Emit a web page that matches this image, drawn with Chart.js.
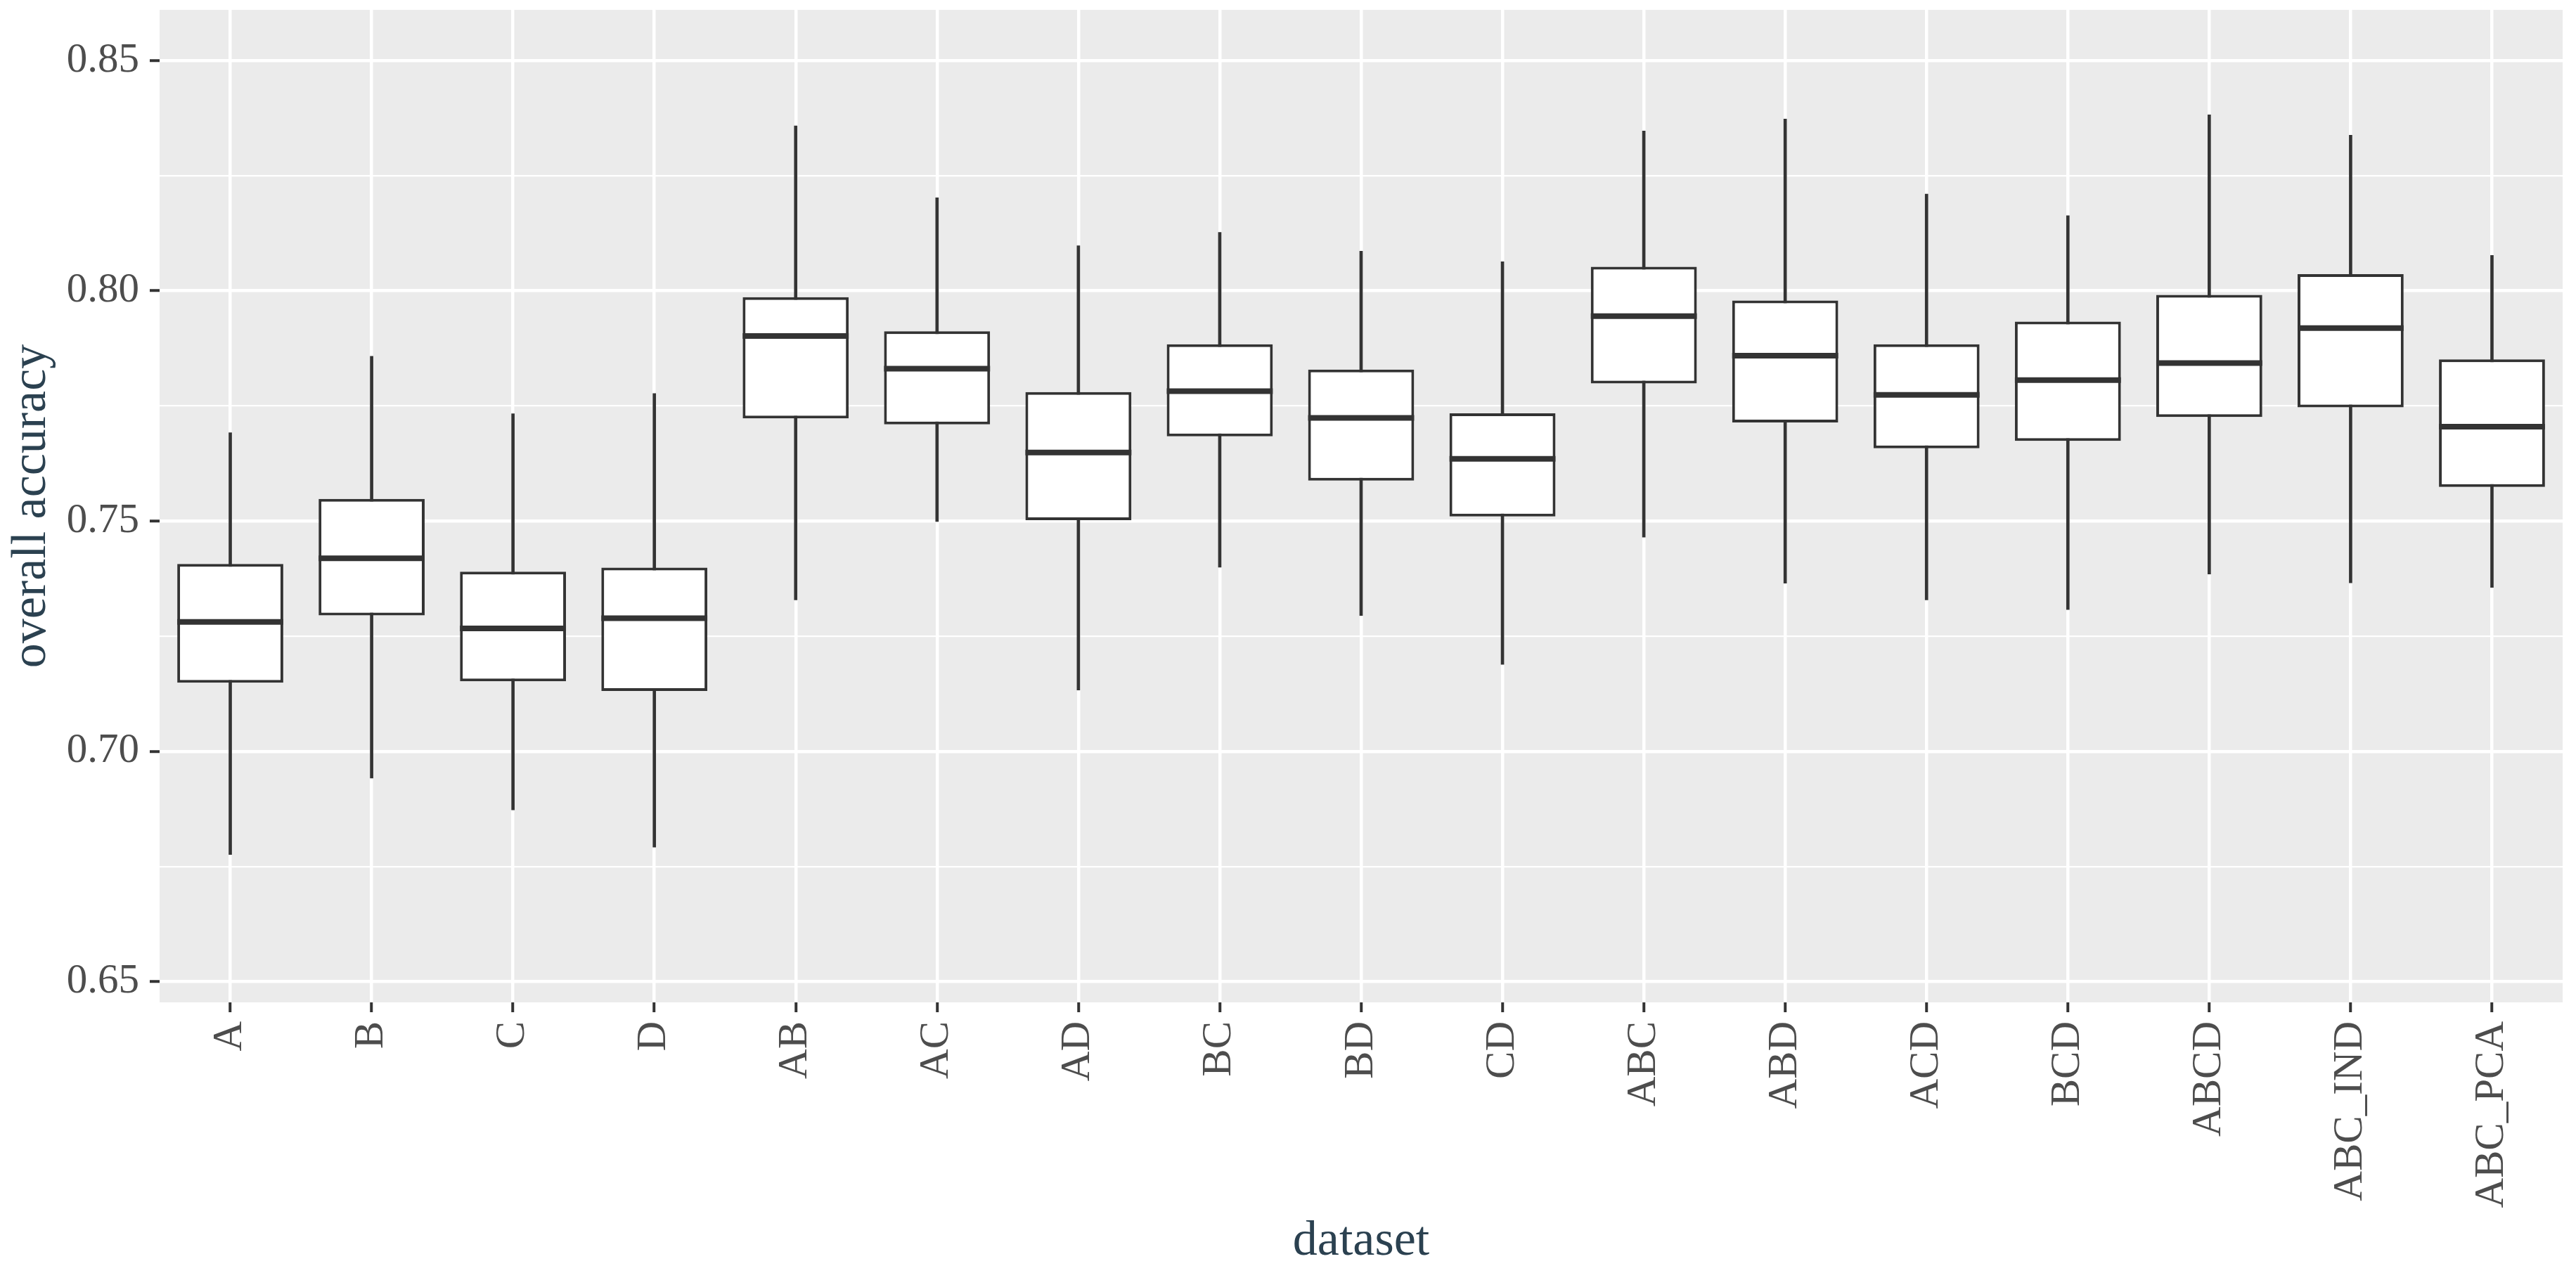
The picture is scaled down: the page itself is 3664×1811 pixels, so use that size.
<!DOCTYPE html>
<html>
<head>
<meta charset="utf-8">
<script src="https://cdn.jsdelivr.net/npm/chart.js@4/dist/chart.umd.min.js"></script>
<style>
  html, body { margin: 0; padding: 0; background: #ffffff; }
  canvas { display: block; }
</style>
</head>
<body>
<canvas id="myChart" width="3664" height="1811"></canvas>
<script>
var labels = ["A", "B", "C", "D", "AB", "AC", "AD", "BC", "BD", "CD", "ABC", "ABD", "ACD", "BCD", "ABCD", "ABC_IND", "ABC_PCA"];
var whiskerLow = [0.6776, 0.6942, 0.6873, 0.6792, 0.7329, 0.7499, 0.7133, 0.7400, 0.7295, 0.7189, 0.7465, 0.7365, 0.7329, 0.7308, 0.7385, 0.7366, 0.7356];
var q1 = [0.7149, 0.7295, 0.7152, 0.7131, 0.7723, 0.7710, 0.7502, 0.7684, 0.7588, 0.7510, 0.7799, 0.7714, 0.7658, 0.7674, 0.7726, 0.7747, 0.7574];
var median = [0.7281, 0.7419, 0.7267, 0.7289, 0.7902, 0.7831, 0.7649, 0.7782, 0.7724, 0.7635, 0.7945, 0.7859, 0.7774, 0.7806, 0.7843, 0.7919, 0.7705];
var q3 = [0.7407, 0.7548, 0.7390, 0.7399, 0.7986, 0.7912, 0.7780, 0.7884, 0.7829, 0.7734, 0.8052, 0.7979, 0.7884, 0.7933, 0.7991, 0.8036, 0.7851];
var whiskerHigh = [0.7692, 0.7858, 0.7733, 0.7777, 0.8358, 0.8202, 0.8098, 0.8127, 0.8086, 0.8063, 0.8347, 0.8373, 0.8210, 0.8163, 0.8382, 0.8338, 0.8077];

var ink = "#333333";
var serif = "'Liberation Serif', 'Times New Roman', serif";

function isMajor(v) {
  return Math.round(v * 1000) % 50 === 0;
}

// grey panel behind everything
var panelBg = {
  id: "panelBg",
  beforeDraw: function (chart) {
    var a = chart.chartArea;
    var c = chart.ctx;
    c.save();
    c.fillStyle = "#EBEBEB";
    c.fillRect(a.left, a.top, a.right - a.left, a.bottom - a.top);
    c.restore();
  },
};

// median line across each box
var medianLines = {
  id: "medianLines",
  afterDatasetsDraw: function (chart) {
    var meta = chart.getDatasetMeta(1);
    var y = chart.scales.y;
    var c = chart.ctx;
    c.save();
    c.strokeStyle = ink;
    c.lineWidth = 8;
    meta.data.forEach(function (bar, i) {
      var py = y.getPixelForValue(median[i]);
      c.beginPath();
      c.moveTo(bar.x - bar.width / 2, py);
      c.lineTo(bar.x + bar.width / 2, py);
      c.stroke();
    });
    c.restore();
  },
};

function noPad(scale) {
  scale.paddingTop = 0;
  scale.paddingBottom = 0;
  scale.paddingLeft = 0;
  scale.paddingRight = 0;
}

var ctx = document.getElementById("myChart").getContext("2d");

var graphData = {
  type: "bar",
  data: {
    labels: labels,
    datasets: [
      {
        label: "whisker",
        data: whiskerLow.map(function (v, i) { return [v, whiskerHigh[i]]; }),
        backgroundColor: ink,
        borderWidth: 0,
        barThickness: 4,
        grouped: false,
        order: 2,
      },
      {
        label: "box",
        data: q1.map(function (v, i) { return [v, q3[i]]; }),
        backgroundColor: "#ffffff",
        borderColor: ink,
        borderWidth: 4,
        borderSkipped: false,
        barPercentage: 0.75,
        categoryPercentage: 1,
        grouped: false,
        order: 1,
      },
    ],
  },
  options: {
    responsive: false,
    devicePixelRatio: 1,
    animation: false,
    layout: { padding: { top: 14, right: 19, left: 0, bottom: 0 } },
    plugins: {
      legend: { display: false },
      tooltip: { enabled: false },
    },
    scales: {
      x: {
        offset: true,
        border: { display: false },
        grid: {
          offset: false,
          color: "#ffffff",
          lineWidth: 4.5,
          tickColor: ink,
          tickWidth: 4,
          tickLength: 14,
        },
        ticks: {
          autoSkip: false,
          minRotation: 90,
          maxRotation: 90,
          padding: 13,
          color: "#4D4D4D",
          font: { family: serif, size: 59 },
        },
        title: {
          display: true,
          text: "dataset",
          color: "#2B4150",
          font: { family: serif, size: 70 },
          padding: { top: 4, bottom: 2 },
        },
        afterFit: function (scale) { scale.height = 385; noPad(scale); },
      },
      y: {
        min: 0.6455,
        max: 0.861,
        border: { display: false },
        grid: {
          color: "#ffffff",
          lineWidth: function (c) { return isMajor(c.tick.value) ? 4.5 : 2.3; },
          tickColor: function (c) { return isMajor(c.tick.value) ? ink : "rgba(0,0,0,0)"; },
          tickWidth: 4,
          tickLength: 14,
        },
        ticks: {
          stepSize: 0.025,
          includeBounds: false,
          autoSkip: false,
          padding: 15,
          color: "#4D4D4D",
          font: { family: serif, size: 59 },
          callback: function (v) { return isMajor(v) ? v.toFixed(2) : ""; },
        },
        title: {
          display: true,
          text: "overall accuracy",
          color: "#2B4150",
          font: { family: serif, size: 70 },
          padding: { top: 4, bottom: 4 },
        },
        afterFit: function (scale) { scale.width = 227; noPad(scale); },
      },
    },
  },
  plugins: [panelBg, medianLines],
};

var myChart = new Chart(ctx, graphData);
</script>
</body>
</html>
